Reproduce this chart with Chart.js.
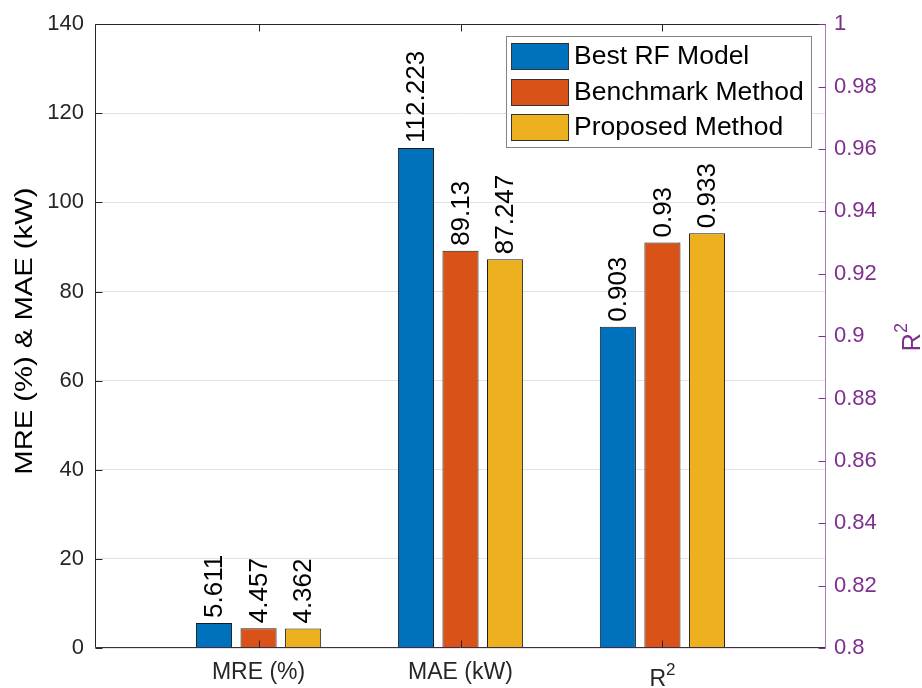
<!DOCTYPE html>
<html>
<head>
<meta charset="utf-8">
<script src="https://cdn.jsdelivr.net/npm/chart.js@4.4.0/dist/chart.umd.min.js"></script>
<style>
  html, body { margin: 0; padding: 0; background: #ffffff; }
  canvas { display: block; }
</style>
</head>
<body>
<canvas id="chart" width="922" height="688"></canvas>
<script>
// Metric groups along the x axis ('^' marks a superscript)
const categories = ['MRE (%)', 'MAE (kW)', 'R^2'];
const categoryPositions = [1, 2, 3];

// Series names
const seriesNames = ['Best RF Model', 'Benchmark Method', 'Proposed Method'];

// Values per metric: [MRE (%), MAE (kW), R²]
const bestRF    = [5.611, 112.223, 0.903];
const benchmark = [4.457, 89.13, 0.93];
const proposed  = [4.362, 87.247, 0.933];

// Axis ticks
const leftTicks = [0, 20, 40, 60, 80, 100, 120, 140];
const leftTickLabels = ['0', '20', '40', '60', '80', '100', '120', '140'];
const rightTicks = [0.8, 0.82, 0.84, 0.86, 0.88, 0.9, 0.92, 0.94, 0.96, 0.98, 1];
const rightTickLabels = ['0.8', '0.82', '0.84', '0.86', '0.88', '0.9', '0.92', '0.94', '0.96', '0.98', '1'];

// Axis titles
const leftTitle = 'MRE (%) & MAE (kW)';
const rightTitle = 'R^2';

const FONT = "'Liberation Sans', Arial, Helvetica, sans-serif";
const seriesColors = ['#0072BD', '#D95319', '#EDB120'];
const purple = '#7E2F8E';
const axisColor = '#262626';

const allSeries = [bestRF, benchmark, proposed];

// MRE and MAE bars use the left axis, R² bars use the right axis
const barStyle = (i) => ({
  backgroundColor: seriesColors[i],
  borderColor: '#1a1a1a',
  borderWidth: 1,
  skipNull: true,
  categoryPercentage: 0.662,
  barPercentage: 0.81
});
const leftDatasets = allSeries.map((vals, i) => Object.assign({
  label: seriesNames[i],
  yAxisID: 'y',
  data: [0, 1].map(k => ({ x: categoryPositions[k], y: vals[k] }))
}, barStyle(i)));
const rightDatasets = allSeries.map((vals, i) => Object.assign({
  label: seriesNames[i],
  yAxisID: 'y2',
  data: [{ x: categoryPositions[2], y: vals[2] }]
}, barStyle(i)));

// Draws "base^sup" text with a raised, smaller superscript; (0,0) is the
// baseline start in the current (possibly rotated) coordinate system.
function drawSupText(ctx, text, size, supSize, rise) {
  const [base, sup] = text.split('^');
  ctx.font = size + 'px ' + FONT;
  ctx.fillText(base, 0, 0);
  if (sup) {
    const w = ctx.measureText(base).width;
    ctx.font = supSize + 'px ' + FONT;
    ctx.fillText(sup, w, -rise);
  }
}
function supTextWidth(ctx, text, size, supSize) {
  const [base, sup] = text.split('^');
  ctx.font = size + 'px ' + FONT;
  let w = ctx.measureText(base).width;
  if (sup) { ctx.font = supSize + 'px ' + FONT; w += ctx.measureText(sup).width; }
  return w;
}

// Value labels written vertically above each bar
const valueLabels = {
  id: 'valueLabels',
  afterDatasetsDraw(chart) {
    const ctx = chart.ctx;
    ctx.save();
    ctx.fillStyle = '#000000';
    ctx.font = '26px ' + FONT;
    ctx.textAlign = 'left';
    ctx.textBaseline = 'middle';
    chart.data.datasets.forEach((ds, di) => {
      const meta = chart.getDatasetMeta(di);
      meta.data.forEach((bar, j) => {
        const v = ds.data[j].y;
        ctx.save();
        ctx.translate(bar.x, bar.y - 5);
        ctx.rotate(-Math.PI / 2);
        ctx.fillText(String(v), 0, 1);
        ctx.restore();
      });
    });
    ctx.restore();
  }
};

// Box frame with inward tick marks, drawn over the bars
const frame = {
  id: 'frame',
  afterDatasetsDraw(chart) {
    const { ctx, chartArea: a, scales } = chart;
    const L = Math.round(a.left) + 0.5, R = Math.round(a.right) - 0.5;
    const T = Math.round(a.top) + 0.5, B = Math.round(a.bottom) - 0.5;
    ctx.save();
    ctx.lineWidth = 1;
    ctx.strokeStyle = axisColor;
    ctx.beginPath();
    ctx.moveTo(L, B); ctx.lineTo(L, T); ctx.lineTo(R, T);
    ctx.stroke();
    ctx.strokeStyle = '#3d2c44';
    ctx.beginPath();
    ctx.moveTo(L, B); ctx.lineTo(R, B);
    ctx.stroke();
    ctx.strokeStyle = axisColor;
    ctx.beginPath();
    leftTicks.forEach(v => {
      const y = Math.round(scales.y.getPixelForValue(v)) + 0.5;
      ctx.moveTo(L, y); ctx.lineTo(L + 7, y);
    });
    categoryPositions.forEach(v => {
      const x = Math.round(scales.x.getPixelForValue(v)) + 0.5;
      ctx.moveTo(x, B); ctx.lineTo(x, B - 7);
      ctx.moveTo(x, T); ctx.lineTo(x, T + 7);
    });
    ctx.stroke();
    // right axis in purple
    ctx.strokeStyle = '#a77bb3';
    ctx.beginPath();
    ctx.moveTo(R, T - 0.5); ctx.lineTo(R, B + 0.5);
    ctx.stroke();
    ctx.strokeStyle = purple;
    ctx.beginPath();
    rightTicks.forEach(v => {
      const y = Math.round(scales.y2.getPixelForValue(v)) + 0.5;
      ctx.moveTo(R, y); ctx.lineTo(R - 7, y);
    });
    ctx.stroke();
    ctx.restore();
  }
};

// Axis titles, superscript category label and the legend box
const decorations = {
  id: 'decorations',
  afterDraw(chart) {
    const { ctx, chartArea: a, scales } = chart;
    const midY = (a.top + a.bottom) / 2;
    ctx.save();
    // left axis title, slightly widened along its run
    ctx.fillStyle = '#000000';
    ctx.font = '23px ' + FONT;
    ctx.textAlign = 'center';
    ctx.textBaseline = 'alphabetic';
    ctx.save();
    ctx.translate(32, midY - 5);
    ctx.rotate(-Math.PI / 2);
    ctx.scale(1.27, 1);
    ctx.fillText(leftTitle, 0, 0);
    ctx.restore();

    ctx.textAlign = 'left';
    // right axis title
    ctx.fillStyle = purple;
    const rw = supTextWidth(ctx, rightTitle, 25, 18);
    ctx.save();
    ctx.translate(920, midY + rw / 2 + 1);
    ctx.rotate(-Math.PI / 2);
    drawSupText(ctx, rightTitle, 25, 18, 13);
    ctx.restore();

    // x labels carrying a superscript
    ctx.fillStyle = axisColor;
    categories.forEach((c, i) => {
      if (c.indexOf('^') < 0) return;
      const w = supTextWidth(ctx, c, 23, 17);
      const x = scales.x.getPixelForValue(categoryPositions[i]) - w / 2;
      ctx.save();
      ctx.translate(x, 686);
      drawSupText(ctx, c, 23, 17, 11);
      ctx.restore();
    });

    // legend
    const bx = 506.5, by = 36.5, bw = 305, bh = 111;
    ctx.fillStyle = '#ffffff';
    ctx.fillRect(bx, by, bw, bh);
    ctx.strokeStyle = '#858585';
    ctx.lineWidth = 1;
    ctx.strokeRect(bx, by, bw, bh);
    ctx.font = '26.5px ' + FONT;
    ctx.textAlign = 'left';
    ctx.textBaseline = 'middle';
    seriesNames.forEach((name, i) => {
      const top = Math.round(43 + i * 35.6);
      ctx.fillStyle = seriesColors[i];
      ctx.fillRect(511, top, 58, 27);
      ctx.strokeStyle = '#333333';
      ctx.strokeRect(511.5, top + 0.5, 57, 26);
      ctx.fillStyle = '#000000';
      ctx.fillText(name, 574, top + 14);
    });
    ctx.restore();
  }
};

new Chart(document.getElementById('chart'), {
  type: 'bar',
  data: { datasets: [...leftDatasets, ...rightDatasets] },
  options: {
    responsive: false,
    animation: false,
    devicePixelRatio: 1,
    layout: { padding: { top: 21, left: 0, right: 0, bottom: 0 } },
    plugins: { legend: { display: false }, tooltip: { enabled: false } },
    scales: {
      x: {
        type: 'linear',
        min: 0.19,
        max: 3.81,
        bounds: 'data',
        offset: false,
        afterBuildTicks: s => { s.ticks = categoryPositions.map(v => ({ value: v })); },
        afterFit: s => { s.height = 40; },
        grid: { display: false, drawTicks: false },
        border: { display: false },
        ticks: {
          autoSkip: false, maxRotation: 0, padding: 11,
          color: axisColor,
          font: { family: FONT, size: 23 },
          // superscripted labels are drawn by the decorations plugin
          callback: (v, i) => (categories[i].indexOf('^') < 0 ? categories[i] : '')
        }
      },
      y: {
        position: 'left',
        min: 0,
        max: 140,
        afterBuildTicks: s => { s.ticks = leftTicks.map(v => ({ value: v })); },
        afterFit: s => { s.width = 95; },
        grid: { color: '#e3e3e3', drawTicks: false },
        border: { display: false },
        ticks: {
          padding: 11,
          color: axisColor,
          font: { family: FONT, size: 22 },
          callback: (v, i) => leftTickLabels[i]
        }
      },
      y2: {
        position: 'right',
        min: 0.8,
        max: 1,
        afterBuildTicks: s => { s.ticks = rightTicks.map(v => ({ value: v })); },
        afterFit: s => { s.width = 96; },
        grid: { display: false, drawTicks: false },
        border: { display: false },
        ticks: {
          padding: 8,
          color: purple,
          font: { family: FONT, size: 22 },
          callback: (v, i) => rightTickLabels[i]
        }
      }
    }
  },
  plugins: [valueLabels, frame, decorations]
});
</script>
</body>
</html>
